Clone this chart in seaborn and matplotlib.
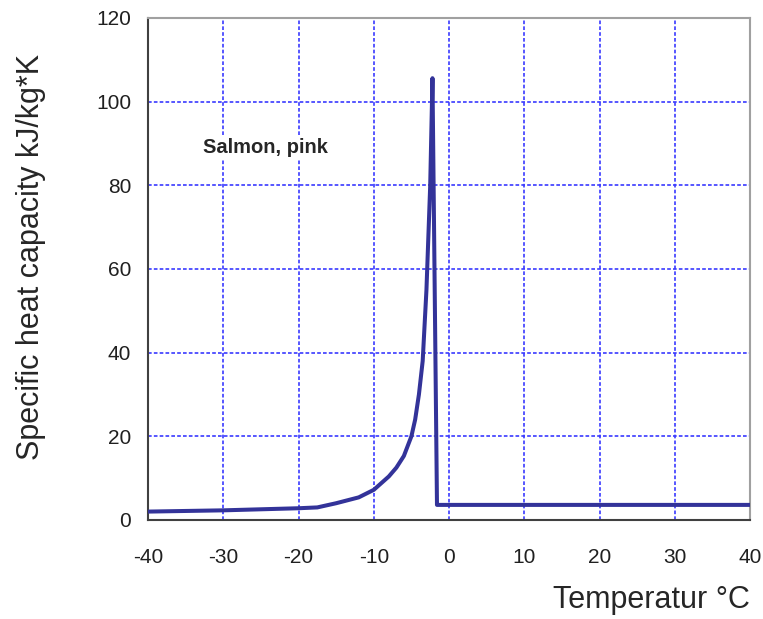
import matplotlib
matplotlib.use("Agg")
import matplotlib.pyplot as plt
import seaborn as sns
import pandas as pd

# temperature (°C) and specific heat capacity (kJ/kg*K)
temperature = [-40, -30, -20, -17.5, -15, -12, -10, -8, -7, -6, -5, -4.5, -4,
               -3.5, -3, -2.5, -2.2, -1.6, 40]
heat_capacity = [2.0, 2.3, 2.8, 3.0, 4.0, 5.4, 7.2, 10.4, 12.5, 15.3, 20.0, 24.0,
                 30.0, 38.0, 55.0, 80.0, 105.6, 3.6, 3.6]
x_ticks = [-40, -30, -20, -10, 0, 10, 20, 30, 40]
y_ticks = [0, 20, 40, 60, 80, 100, 120]
label = "Salmon, pink"

sns.set_style("white")
plt.rcParams["font.family"] = ["Liberation Sans", "DejaVu Sans"]
plt.rcParams["axes.unicode_minus"] = False

df = pd.DataFrame({"T": temperature, "cp": heat_capacity})

fig = plt.figure(figsize=(7.63, 6.19), dpi=100)
ax = fig.add_axes([0.194, 0.160, 0.789, 0.811])

sns.lineplot(data=df, x="T", y="cp", sort=False, color="#333399", linewidth=2.9, ax=ax, zorder=3)

ax.set_xlim(-40, 40)
ax.set_ylim(0, 120)
ax.set_xticks(x_ticks)
ax.set_yticks(y_ticks)
ax.grid(True, color="#3a3aff", linestyle=(0, (2.2, 1.3)), linewidth=1.2)
ax.set_axisbelow(True)

for side in ["top", "right"]:
    ax.spines[side].set_color("#a0a0a0")
    ax.spines[side].set_linewidth(1.5)
for side in ["left", "bottom"]:
    ax.spines[side].set_color("#404040")
    ax.spines[side].set_linewidth(1.5)
ax.tick_params(direction="out", length=6, width=1.5, color="#404040",
               labelsize=15, labelcolor="#202020", pad=14)
ax.tick_params(axis="y", pad=6)

ax.set_xlabel("")
ax.set_ylabel("")
fig.text(0.040, 1 - 257 / 619, "Specific heat capacity kJ/kg*K", fontsize=22,
         rotation=90, ha="center", va="center")
fig.text(0.983, 0.03, "Temperatur °C", fontsize=22, ha="right", va="center")

ax.text(-32.7, 89, label, fontsize=14.5, fontweight="bold", va="center", ha="left",
        bbox=dict(facecolor="white", edgecolor="none", pad=1), zorder=4)

fig.savefig("out.png", dpi=100)
